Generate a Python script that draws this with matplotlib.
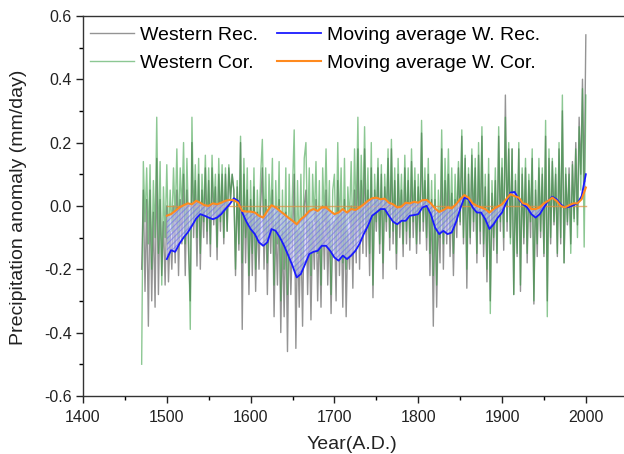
import matplotlib
matplotlib.use("Agg")
import matplotlib.pyplot as plt
import matplotlib.ticker as ticker
import numpy as np

# ---------------------------------------------------------------
# data read off the reference (annual series sampled every 2 yrs)
years = np.arange(1470, 2001, 2)

western_cor = [
    -0.50, 0.14, -0.05, 0.12, -0.12,   # 1470s
    0.13, -0.20, 0.08, -0.10, 0.28,
    -0.15, 0.14, -0.25, 0.06, -0.10,
    0.13, -0.12, 0.05, -0.08, 0.12,    # 1500s
    -0.05, 0.18, -0.10, 0.12, -0.02,
    0.20, -0.12, 0.15, -0.06, -0.39,
    0.28, -0.05, 0.13, -0.10, 0.15,
    -0.15, 0.10, -0.05, 0.16, -0.08,
    0.12, -0.12, 0.16, -0.02, 0.10,
    -0.13, 0.15, -0.05, 0.13, -0.10,
    0.12, -0.08, 0.13, 0.02, 0.10,
    0.05, -0.20, 0.08, -0.12, 0.22,
    -0.18, 0.15, -0.10, 0.12, -0.22,
    0.08, -0.15, 0.12, -0.20, 0.05,    # 1600s
    -0.10, 0.10, 0.21, -0.08, 0.12,
    -0.18, 0.10, -0.05, 0.15, -0.25,
    0.08, -0.12, 0.14, -0.30, 0.05,
    -0.20, 0.12, -0.28, 0.10, -0.12,
    0.05, 0.24, -0.22, 0.08, -0.15,
    0.10, -0.20, 0.15, 0.20, -0.10,
    0.12, -0.22, 0.10, -0.05, 0.14,
    -0.15, 0.08, -0.25, 0.12, -0.05,
    0.18, -0.10, 0.08, -0.28, 0.05,
    0.10, -0.15, 0.20, -0.08, 0.12,    # 1700s
    -0.18, 0.15, -0.20, 0.06, -0.05,
    0.14, -0.12, 0.18, -0.05, 0.28,
    -0.10, 0.16, -0.05, 0.25, -0.08,
    0.12, -0.15, 0.20, -0.25, 0.10,
    -0.05, 0.15, -0.12, 0.13, -0.18,
    0.10, -0.05, 0.18, -0.10, 0.21,
    -0.08, 0.12, -0.15, 0.15, -0.05,
    0.10, -0.12, 0.16, -0.08, 0.12,
    -0.10, 0.18, -0.05, 0.12, -0.12,
    0.10, -0.08, 0.27, -0.05, 0.12,    # 1800s
    -0.10, 0.15, -0.15, 0.08, -0.22,
    0.10, -0.25, 0.05, -0.10, 0.24,
    -0.12, 0.15, -0.05, 0.18, -0.08,
    0.12, -0.15, 0.10, -0.05, 0.14,
    -0.05, 0.24, -0.10, 0.16, -0.20,
    0.12, -0.10, 0.18, -0.05, 0.15,
    -0.15, 0.20, -0.08, 0.25, -0.12,
    0.10, -0.20, 0.15, -0.34, 0.08,
    -0.10, 0.12, -0.15, 0.25, -0.05,
    0.15, -0.10, 0.28, -0.05, 0.20,    # 1900s
    -0.12, 0.18, -0.28, 0.10, -0.15,
    0.20, -0.25, 0.12, -0.10, 0.15,
    -0.15, 0.10, -0.05, 0.18, -0.30,
    0.08, -0.12, 0.15, -0.08, 0.12,
    -0.15, 0.27, -0.35, 0.18, -0.10,
    0.15, -0.05, 0.12, -0.15, 0.20,
    -0.10, 0.35, -0.18, 0.12, -0.05,
    0.10, -0.15, 0.13, -0.05, 0.18,
    -0.10, 0.25, 0.05, 0.37, -0.13,
    0.35,
]

western_rec = [
    -0.20, 0.05, -0.27, 0.02, -0.38,   # 1470s
    0.05, -0.30, -0.02, -0.32, 0.15,
    -0.28, 0.02, -0.22, -0.05, -0.25,
    0.00, -0.24, -0.08, -0.20, 0.00,   # 1500s
    -0.18, 0.05, -0.22, 0.02, -0.12,
    0.10, -0.22, 0.05, -0.15, -0.30,
    0.20, -0.10, 0.08, -0.19, 0.10,
    -0.20, 0.05, -0.10, 0.12, -0.12,
    0.08, -0.16, 0.12, -0.06, 0.06,
    -0.17, 0.10, -0.08, 0.10, -0.12,
    0.10, -0.08, 0.12, 0.02, 0.10,
    0.05, -0.22, 0.06, -0.14, 0.20,
    -0.39, 0.10, -0.18, 0.05, -0.28,
    0.02, -0.22, 0.06, -0.27, -0.02,   # 1600s
    -0.20, 0.00, 0.12, -0.20, 0.02,
    -0.28, 0.00, -0.15, 0.05, -0.35,
    -0.05, -0.25, 0.02, -0.40, -0.08,
    -0.35, -0.02, -0.46, -0.05, -0.28,
    -0.10, 0.10, -0.45, -0.08, -0.32,
    -0.08, -0.38, 0.00, 0.05, -0.28,
    -0.05, -0.36, -0.05, -0.20, 0.02,
    -0.30, -0.05, -0.32, 0.00, -0.20,
    0.05, -0.25, -0.05, -0.34, -0.08,
    -0.05, -0.30, 0.08, -0.22, -0.02,  # 1700s
    -0.32, 0.02, -0.35, -0.08, -0.20,
    0.00, -0.26, 0.05, -0.18, 0.18,
    -0.20, 0.08, -0.15, 0.18, -0.16,
    0.05, -0.22, 0.12, -0.29, 0.05,
    -0.08, 0.12, -0.15, 0.10, -0.23,
    0.06, -0.08, 0.15, -0.14, 0.18,
    -0.12, 0.08, -0.20, 0.10, -0.10,
    0.05, -0.16, 0.12, -0.12, 0.08,
    -0.14, 0.14, -0.10, 0.08, -0.15,
    0.06, -0.12, 0.23, -0.08, 0.08,    # 1800s
    -0.14, 0.10, -0.22, 0.02, -0.38,
    0.02, -0.32, -0.02, -0.18, 0.18,
    -0.20, 0.08, -0.12, 0.10, -0.16,
    0.04, -0.22, 0.02, -0.10, 0.12,
    -0.06, 0.22, -0.12, 0.15, -0.26,
    0.10, -0.12, 0.16, -0.08, 0.12,
    -0.18, 0.16, -0.12, 0.22, -0.16,
    0.06, -0.24, 0.10, -0.30, 0.04,
    -0.14, 0.08, -0.18, 0.22, -0.08,
    0.12, -0.14, 0.35, -0.08, 0.18,    # 1900s
    -0.10, 0.18, -0.28, 0.08, -0.16,
    0.18, -0.27, 0.10, -0.12, 0.12,
    -0.18, 0.08, -0.10, 0.15, -0.31,
    0.05, -0.16, 0.12, -0.10, 0.10,
    -0.16, 0.22, -0.30, 0.15, -0.12,
    0.14, -0.06, 0.10, -0.16, 0.18,
    -0.12, 0.30, -0.18, 0.10, -0.06,
    0.12, -0.12, 0.14, -0.04, 0.20,
    -0.06, 0.28, 0.10, 0.40, 0.05,
    0.54,
]

# moving averages, every 5 yrs 1500-2000
ma_years = np.arange(1500, 2001, 5)

ma_rec = [
    -0.168, -0.140, -0.145, -0.120, -0.100, -0.084, -0.063, -0.040, -0.026, -0.031,
    -0.037, -0.042, -0.037, -0.026, -0.010, 0.005, 0.024, 0.016, -0.021, -0.050,
    -0.073, -0.089, -0.115, -0.126, -0.115, -0.073, -0.079, -0.100, -0.126, -0.157,
    -0.189, -0.226, -0.215, -0.184, -0.152, -0.145, -0.142, -0.126, -0.126, -0.142,
    -0.163, -0.173, -0.157, -0.168, -0.157, -0.142, -0.120, -0.089, -0.063, -0.031,
    -0.021, -0.010, -0.010, -0.031, -0.050, -0.058, -0.047, -0.047, -0.031, -0.029,
    -0.026, -0.005, 0.000, -0.026, -0.068, -0.089, -0.079, -0.089, -0.084, -0.052,
    -0.010, 0.026, 0.021, -0.005, -0.021, -0.021, -0.042, -0.073, -0.058, -0.037,
    -0.021, 0.010, 0.042, 0.044, 0.021, 0.005, -0.005, -0.026, -0.037, -0.026,
    -0.005, 0.016, 0.029, 0.021, 0.005, -0.005, -0.003, 0.002, 0.008, 0.031,
    0.100,
]

ma_cor = [
    -0.031, -0.026, -0.016, -0.005, 0.002, 0.008, 0.005, 0.016, 0.010, 0.002,
    0.000, 0.008, 0.005, 0.010, 0.016, 0.019, 0.018, 0.010, -0.016, -0.018,
    -0.018, -0.021, -0.031, -0.037, -0.016, 0.002, -0.005, -0.016, -0.026, -0.037,
    -0.047, -0.058, -0.042, -0.031, -0.016, -0.010, -0.016, -0.005, -0.005, -0.016,
    -0.026, -0.021, -0.010, -0.021, -0.010, -0.013, -0.005, 0.005, 0.016, 0.024,
    0.026, 0.021, 0.023, 0.010, 0.005, -0.005, -0.002, 0.010, 0.008, 0.013,
    0.010, 0.018, 0.019, 0.008, -0.008, -0.019, -0.013, -0.005, -0.008, 0.005,
    0.021, 0.034, 0.026, 0.008, 0.000, -0.005, -0.010, -0.021, -0.010, -0.002,
    0.005, 0.021, 0.037, 0.031, 0.026, 0.008, 0.005, -0.010, -0.010, -0.005,
    0.008, 0.016, 0.026, 0.016, 0.000, -0.005, 0.002, 0.008, 0.008, 0.021,
    0.058,
]

###########################################################################

plt.rcParams['font.family'] = ['Liberation Sans', 'DejaVu Sans']
plt.rcParams['hatch.linewidth'] = 0.8

fig = plt.figure(figsize=(6.24, 4.54), dpi=100)
ax = fig.add_axes([0.133, 0.128, 0.873, 0.837])

ax.plot(years, western_rec, color='#707070', lw=1.0, alpha=0.75,
        label='Western Rec.')
ax.plot(years, western_cor, color='#2e9a3a', lw=1.0, alpha=0.55,
        label='Western Cor.')

# zero reference over the moving average range
ax.plot([ma_years[0], ma_years[-1]], [0, 0], color='#e09040', lw=1.0,
        alpha=0.7, zorder=3)

ax.fill_between(ma_years, ma_rec, ma_cor, facecolor='#c4c4f6', alpha=0.6,
                hatch='//////', edgecolor='#6a6af0', linewidth=0, zorder=3)

ax.plot(ma_years, ma_rec, color='#1a1aff', lw=1.3, zorder=4,
        label='Moving average W. Rec.')
ax.plot(ma_years, ma_cor, color='#ff8a1e', lw=1.5, zorder=4,
        label='Moving average W. Cor.')

ax.set_xlim(1400, 2050)
ax.set_ylim(-0.6, 0.6)
ax.xaxis.set_major_locator(ticker.MultipleLocator(100))
ax.xaxis.set_minor_locator(ticker.MultipleLocator(50))
ax.yaxis.set_major_locator(ticker.MultipleLocator(0.2))
ax.yaxis.set_minor_locator(ticker.MultipleLocator(0.1))
ax.yaxis.set_major_formatter(ticker.FormatStrFormatter('%.1f'))
ax.tick_params(which='major', direction='out', length=5, width=1,
               labelsize=11.5, colors='#222222')
ax.tick_params(axis='y', which='major', pad=3)
ax.tick_params(axis='x', which='major', pad=5)
ax.tick_params(which='minor', direction='out', length=3, width=1)
for side in ['left', 'bottom', 'top', 'right']:
    ax.spines[side].set_linewidth(1.0)
    ax.spines[side].set_color('#333333')

ax.set_xlabel('Year(A.D.)', fontsize=14, color='#222222')
ax.set_ylabel('Precipitation anomaly (mm/day)', fontsize=14, color='#222222')
ax.yaxis.set_label_coords(-0.103, 0.497)
ax.xaxis.set_label_coords(0.493, -0.105)

leg = ax.legend(loc='upper left', ncol=2, frameon=False, fontsize=14,
                handlelength=2.25, columnspacing=1.0, handletextpad=0.3,
                labelspacing=0.5, borderaxespad=0.35, borderpad=0.2,
                bbox_to_anchor=(-0.006, 1.0))

fig.savefig('out.png', dpi=100)
